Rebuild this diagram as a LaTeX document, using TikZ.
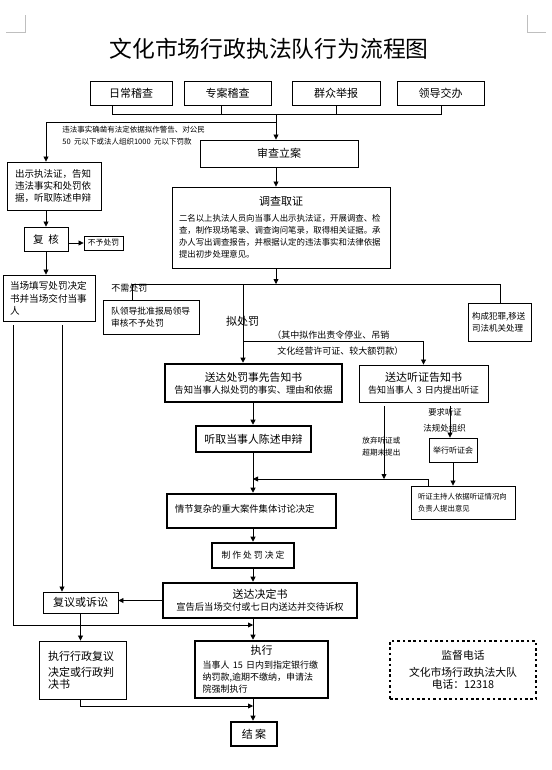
\documentclass[tikz,border=0pt]{standalone}
\usepackage{fontspec}
\setmainfont{Noto Sans CJK SC}
\usetikzlibrary{arrows.meta}
\newcommand{\fsz}[2]{\fontsize{#1pt}{#2pt}\selectfont}

\begin{document}
\begin{tikzpicture}[x=1pt, y=-1pt, line width=0.8pt,
    box/.style={draw, line width=0.9pt, inner sep=0pt, align=center},
    thickbox/.style={box, line width=2.6pt},
    lbl/.style={inner sep=0pt, align=left},
    arr/.style={-{Triangle[length=5pt,width=5pt]}}]
    \useasboundingbox (0,0) rectangle (551,770);

    % page corner marks
    \draw[gray!50] (6,32) -- (25,32) -- (25,15);
    \draw[gray!50] (527,15) -- (527,32) -- (546,32);

    % title
    \node (title) at (269,49) {\fsz{22.8}{26}文化市场行政执法队行为流程图};

    % sources of cases
    \node[box, minimum width=82pt, minimum height=24pt] (richang) at (131,93) {\fsz{11}{13}日常稽查};
    \node[box, minimum width=87pt, minimum height=24pt] (zhuanan) at (227.5,93) {\fsz{11}{13}专案稽查};
    \node[box, minimum width=88pt, minimum height=24pt] (qunzhong) at (336,93) {\fsz{11}{13}群众举报};
    \node[box, minimum width=87pt, minimum height=24pt] (lingdao) at (440.5,93) {\fsz{11}{13}领导交办};
    \coordinate (s1) at (112,114);
    \coordinate (s2) at (221,114);
    \coordinate (s3) at (336,114);
    \coordinate (s4) at (441,114);
    \coordinate (jn) at (276,114);
    \coordinate (br) at (276,122);

    % simple procedure (left column)
    \node[lbl, anchor=west, text width=150pt] (illegal) at (62,135.5) {\fsz{7.5}{13}违法事实确凿有法定依据拟作警告、对公民\\50 元以下或法人组织1000 元以下罚款};
    \node[box, minimum width=94pt, minimum height=48pt, align=left, text width=78pt] (chushi) at (54,186) {\fsz{9.5}{12.5}出示执法证，告知\\违法事实和处罚依\\据，听取陈述申辩};
    \node[box, minimum width=44pt, minimum height=24pt] (fuhe) at (46,239) {\fsz{10.5}{12}复\hspace{5pt}核};
    \node[box, minimum width=39pt, minimum height=14pt] (buyu) at (103.5,243) {\fsz{7.8}{9}不予处罚};
    \node[box, minimum width=92pt, minimum height=46pt, align=left, text width=78pt] (dangchang) at (49,298) {\fsz{9.6}{13}当场填写处罚决定\\书并当场交付当事\\人};
    \coordinate (l1) at (13,325);
    \coordinate (l2) at (62,325);

    % general procedure
    \node[box, minimum width=158pt, minimum height=27pt] (shencha) at (279,153.5) {\fsz{11}{13}审查立案};
    \node[box, minimum width=218pt, minimum height=81pt, align=left, text width=204pt] (diaocha) at (281,227.5) {{\fsz{11}{14}\makebox[204pt]{调查取证}}\\[4pt]\fsz{8.4}{12}二名以上执法人员向当事人出示执法证，开展调查、检\\查，制作现场笔录、调查询问笔录，取得相关证据。承\\办人写出调查报告，并根据认定的违法事实和法律依据\\提出初步处理意见。};
    \coordinate (hj) at (276,284);
    \coordinate (hl) at (132,284);
    \coordinate (hr) at (500,284);
    \coordinate (np) at (243,284);
    \coordinate (hz) at (243,341);
    \node[lbl, anchor=west] (nopen) at (111,288) {\fsz{9}{11}不需处罚};
    \node[box, minimum width=96pt, minimum height=34pt, align=left, text width=80pt] (dui) at (151,317) {\fsz{8.8}{11.5}队领导批准报局领导\\审核不予处罚};
    \node[box, minimum width=63pt, minimum height=38pt, align=left, text width=55pt] (fanzui) at (499.5,322) {\fsz{8.5}{17}构成犯罪,移送\\司法机关处理};
    \node[lbl] (plan) at (242.5,321) {\fsz{11}{13}拟处罚};
    \node[lbl, anchor=west] (ser1) at (272,335) {\fsz{9}{11}（其中拟作出责令停业、吊销};
    \node[lbl, anchor=west] (ser2) at (277,351) {\fsz{9}{11}文化经营许可证、较大额罚款）};

    \node[thickbox, minimum width=177pt, minimum height=38pt, text width=177pt] (shixian) at (253.5,383) {{\fsz{10.8}{14}送达处罚事先告知书}\\\fsz{9.3}{14.5}告知当事人拟处罚的事实、理由和依据};
    \node[box, minimum width=129pt, minimum height=37pt, text width=129pt] (tingzheng) at (423.5,383.5) {{\fsz{11}{14}送达听证告知书}\\\fsz{9}{14.5}告知当事人 3 日内提出听证};
    \node[thickbox, minimum width=115pt, minimum height=26pt] (tingqu) at (253.5,439) {\fsz{10.9}{13}听取当事人陈述申辩};

    % hearing
    \coordinate (fq) at (384,406);
    \coordinate (yq) at (450,406);
    \coordinate (mx) at (253,479);
    \coordinate (zc) at (428,479);
    \node[lbl, anchor=west] (ask) at (428,412) {\fsz{8.3}{10}要求听证};
    \node[lbl, anchor=west] (orgz) at (423,428) {\fsz{8.5}{10}法规处组织};
    \node[lbl, anchor=west, text width=40pt] (waive) at (362,446.5) {\fsz{7.6}{10}放弃听证或\\超期未提出};
    \node[box, minimum width=48pt, minimum height=24pt] (juxing) at (453,450) {\fsz{8}{10}举行听证会};
    \node[box, minimum width=104pt, minimum height=33pt, align=left, text width=90pt] (zhuchi) at (463,502.5) {\fsz{7.4}{11}听证主持人依据听证情况向\\负责人提出意见};

    % decision
    \node[thickbox, minimum width=169pt, minimum height=34pt, align=left, text width=153pt] (qingjie) at (251.5,511) {\raisebox{4pt}{\fsz{9.3}{12}情节复杂的重大案件集体讨论决定}};
    \node[thickbox, minimum width=82pt, minimum height=25pt] (zhizuo) at (253,555.5) {\fsz{8.8}{11}制 作 处 罚 决 定};
    \node[thickbox, minimum width=194pt, minimum height=35pt, text width=194pt] (jueding) at (260,600.5) {{\fsz{11}{13}送达决定书}\\\fsz{9.3}{13}宣告后当场交付或七日内送达并交待诉权};
    \node[box, minimum width=75pt, minimum height=21pt] (fuyi) at (80.5,602.5) {\fsz{11}{13}复议或诉讼};
    \coordinate (mj) at (253,625);
    \coordinate (fj) at (253,706);

    % execution
    \node[box, minimum width=87pt, minimum height=58pt, align=left, text width=69pt] (zhixingfy) at (82.5,670) {\fsz{11}{16}执行行政复议\\决定或行政判\\决书};
    \node[thickbox, minimum width=133pt, minimum height=57pt, align=left, text width=118pt] (zhixing) at (261.5,669.5) {{\fsz{11}{14}\makebox[118pt]{执行}}\\[2pt]\fsz{9}{12}当事人 15 日内到指定银行缴\\纳罚款,逾期不缴纳，申请法\\院强制执行};
    \node[thickbox, minimum width=46pt, minimum height=24pt] (jiean) at (254,734) {\fsz{11}{13}结 案};
    \node[draw, line width=2.6pt, dash pattern=on 2.6pt off 2.8pt, inner sep=0pt, minimum width=146pt, minimum height=58pt, align=center, text width=146pt] (jiandu) at (463,670) {\fsz{10.8}{16.5}监督电话\\文化市场行政执法大队\\电话：12318};

    % connectors
    \draw (s1 |- richang.south) -- (s1) -- (s4) -- (s4 |- lingdao.south);
    \draw (s2 |- zhuanan.south) -- (s2);
    \draw (s3 |- qunzhong.south) -- (s3);
    \draw[arr] (jn) -- (jn |- shencha.north);
    \draw[arr] (br) -| (fuhe |- chushi.north);
    \draw[arr] (fuhe |- chushi.south) -- (fuhe.north);
    \draw[arr] (fuhe.east |- buyu.west) -- (buyu.west);
    \draw[arr] (fuhe.south) -- (fuhe |- dangchang.north);
    \draw[arr] (l1) |- (mj);
    \draw[arr] (l2) -- (l2 |- fuyi.north);

    \draw[arr] (jn |- shencha.south) -- (jn |- diaocha.north);
    \draw[arr] (jn |- diaocha.south) -- (hj);
    \draw (hl) -- (hr);
    \draw (hl) -- (hl |- dui.north);
    \draw (hr) -- (hr |- fanzui.north);
    \draw[arr] (np) -- (np |- shixian.north);
    \draw[arr] (hz) -| (tingzheng.north);

    \draw[arr] (mx |- shixian.south) -- (mx |- tingqu.north);
    \draw[arr] (mx |- tingqu.south) -- (mx |- qingjie.north);
    \draw[arr] (fq) -- (fq |- mx);
    \draw[arr] (yq) -- (yq |- juxing.north);
    \draw[arr] (juxing.south) -- (juxing.south |- zhuchi.north);
    \draw[arr] (zc |- zhuchi.north) -- (zc) -- (mx);

    \draw[arr] (mx |- qingjie.south) -- (mx |- zhizuo.north);
    \draw[arr] (mx |- zhizuo.south) -- (mx |- jueding.north);
    \draw[arr] (jueding.west) -- (jueding.west -| fuyi.east);
    \draw[arr] (mx |- jueding.south) -- (mx |- zhixing.north);
    \draw[arr] (fuyi.south) -- (fuyi.south |- zhixingfy.north);
    \draw[arr] (fuyi.south |- zhixingfy.south) |- (fj);
    \draw[arr] (mx |- zhixing.south) -- (mx |- jiean.north);
\end{tikzpicture}
\end{document}
